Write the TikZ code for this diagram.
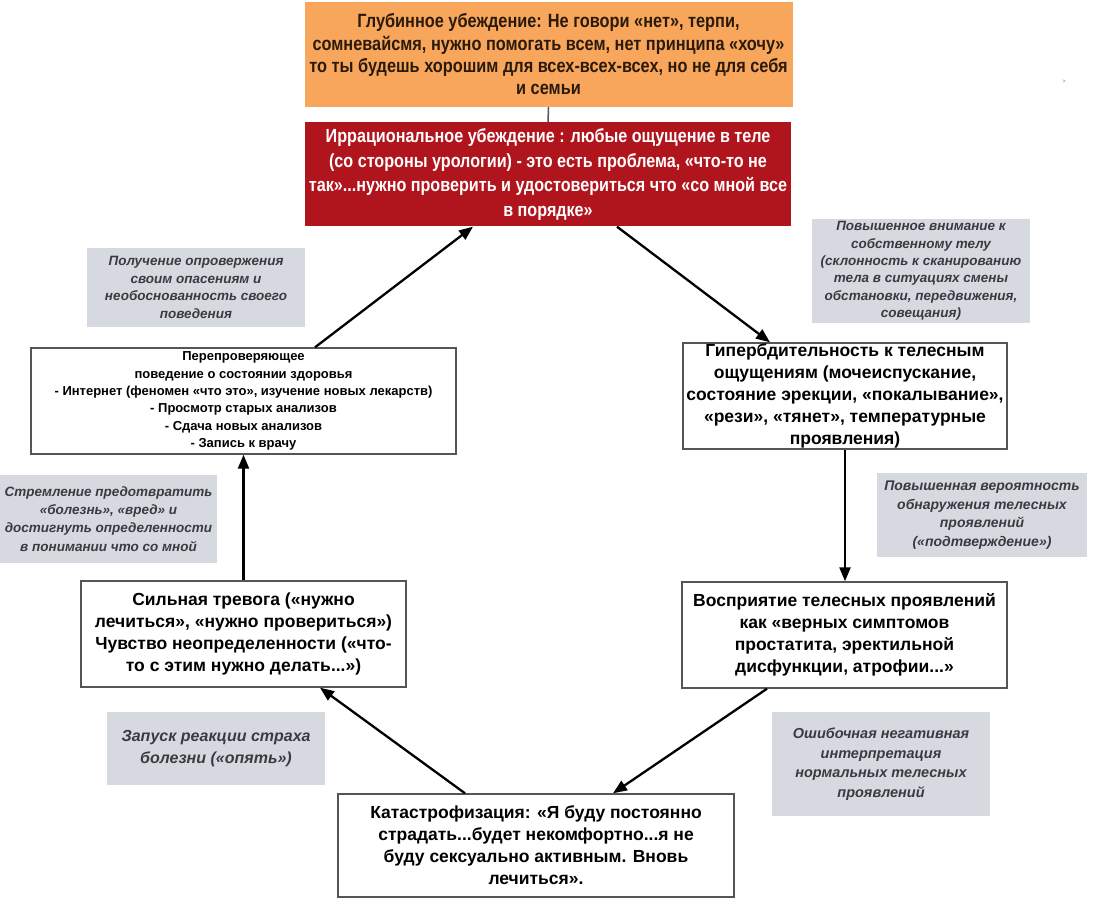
\documentclass[tikz,border=0pt]{standalone}
\usepackage{fontspec}
\setmainfont{Liberation Sans}
\newfontfamily\narrowfont[FakeStretch=0.85]{Liberation Sans}
\usetikzlibrary{arrows.meta}
\definecolor{orangebox}{HTML}{F8A65B}
\definecolor{redbox}{HTML}{B0141C}
\definecolor{graybox}{HTML}{D6DAE0}
\definecolor{graytext}{HTML}{3A3B40}
\definecolor{boxline}{HTML}{555555}
\definecolor{orangetext}{HTML}{2A1A0C}
\tikzset{
  topbox/.style={fill=orangebox, draw=none, minimum width=488pt, minimum height=105pt,
    align=center, inner sep=0pt, text=orangetext, font=\narrowfont\bfseries\fontsize{19.2}{22.3}\selectfont},
  irrbox/.style={fill=redbox, draw=none, minimum width=486pt, minimum height=104pt,
    align=center, inner sep=0pt, text=white, font=\narrowfont\bfseries\fontsize{19}{24.5}\selectfont},
  whitebox/.style={fill=white, draw=boxline, line width=1.4pt, align=center, inner sep=0pt,
    font=\bfseries\fontsize{17.5}{22}\selectfont, text=black},
  smallwhite/.style={whitebox, font=\bfseries\fontsize{13}{17.3}\selectfont},
  notebox/.style={fill=graybox, draw=none, align=center, inner sep=0pt, text=graytext,
    font=\bfseries\itshape\fontsize{13.5}{17.4}\selectfont},
  flow/.style={draw=black, line width=2.3pt, -{Triangle[length=14pt,width=11pt]}},
  plainlink/.style={draw=boxline, line width=1.5pt}
}
\begin{document}
\begin{tikzpicture}[x=1pt,y=-1pt]
\useasboundingbox (0,0) rectangle (1094,909);
\fill[white] (0,0) rectangle (1094,909);

\node[topbox] (deep) at (548.5,54.5) {Глубинное убеждение: Не говори «нет», терпи,\\
сомневайсмя, нужно помогать всем, нет принципа «хочу»\\
то ты будешь хорошим для всех-всех-всех, но не для себя\\
и семьи};

\node[irrbox] (irr) at (548,174.5) {Иррациональное убеждение : любые ощущение в теле\\
(со стороны урологии) - это есть проблема, «что-то не\\
так»...нужно проверить и удостовериться что «со мной все\\
в порядке»};

\node[notebox, minimum width=218pt, minimum height=79pt] (n1) at (196,287.5)
 {Получение опровержения\\своим опасениям и\\необоснованность своего\\поведения};

\node[smallwhite, minimum width=425pt, minimum height=106pt] (check) at (243.5,401)
 {Перепроверяющее\\поведение о состоянии здоровья\\- Интернет (феномен «что это», изучение новых лекарств)\\- Просмотр старых анализов\\- Сдача новых анализов\\- Запись к врачу};

\node[notebox, minimum width=218pt, minimum height=104pt] (n2) at (921,271)
 {Повышенное внимание к\\собственному телу\\(склонность к сканированию\\тела в ситуациях смены\\обстановки, передвижения,\\совещания)};

\node[whitebox, minimum width=324pt, minimum height=106pt] (hyper) at (845,396)
 {Гипербдительность к телесным\\ощущениям (мочеиспускание,\\состояние эрекции, «покалывание»,\\«рези», «тянет», температурные\\проявления)};

\node[notebox, minimum width=210pt, minimum height=84pt, font=\bfseries\itshape\fontsize{14}{18.5}\selectfont] (n3) at (982,515)
 {Повышенная вероятность\\обнаружения телесных\\проявлений\\(«подтверждение»)};

\node[whitebox, minimum width=325pt, minimum height=106pt] (perc) at (844.5,635)
 {Восприятие телесных проявлений\\как «верных симптомов\\простатита, эректильной\\дисфункции, атрофии...»};

\node[notebox, minimum width=218pt, minimum height=104pt, font=\bfseries\itshape\fontsize{14.5}{19.6}\selectfont] (n4) at (881,764)
 {Ошибочная негативная\\интерпретация\\нормальных телесных\\проявлений};

\node[whitebox, minimum width=396pt, minimum height=103pt] (cat) at (536,845.5)
 {Катастрофизация: «Я буду постоянно\\страдать...будет некомфортно...я не\\буду сексуально активным. Вновь\\лечиться».};

\node[notebox, minimum width=218pt, minimum height=73pt, font=\bfseries\itshape\fontsize{16}{22}\selectfont] (n5) at (216,748.5)
 {Запуск реакции страха\\болезни («опять»)};

\node[whitebox, minimum width=325pt, minimum height=106pt] (anx) at (243.5,634)
 {Сильная тревога («нужно\\лечиться», «нужно провериться»)\\Чувство неопределенности («что-\\то с этим нужно делать...»)};

\node[notebox, minimum width=217pt, minimum height=88pt, font=\bfseries\itshape\fontsize{13.5}{18.3}\selectfont] (n6) at (108.5,519)
 {Стремление предотвратить\\«болезнь», «вред» и\\достигнуть определенности\\в понимании что со мной};

\node[text=gray, font=\fontsize{6}{7}\selectfont, inner sep=0pt] (mark) at (1064,82) {>};

% connectors
\draw[plainlink] (deep.south) -- (irr.north);
\draw[flow] ([xshift=71.5pt]check.north) -- ([xshift=-75pt]irr.south);
\draw[flow] ([xshift=69pt]irr.south) -- ([xshift=-75pt]hyper.north);
\draw[flow] (hyper.south) -- (hyper.south |- perc.north);
\draw[flow] ([xshift=-77.5pt]perc.south) -- ([xshift=77pt]cat.north);
\draw[flow] ([xshift=-71pt]cat.north) -- ([xshift=76.5pt]anx.south);
\draw[flow] (anx.north) -- (anx.north |- check.south);
\end{tikzpicture}
\end{document}
